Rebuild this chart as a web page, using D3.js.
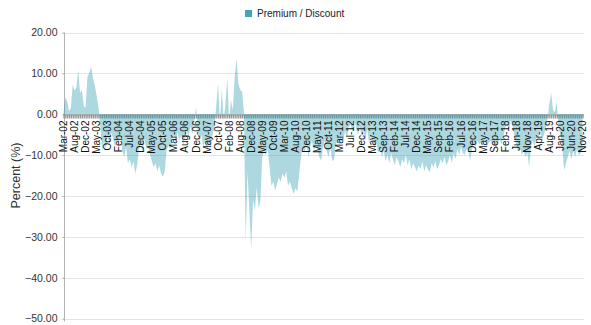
<!DOCTYPE html>
<html>
<head>
<meta charset="utf-8">
<script src="https://cdn.jsdelivr.net/npm/d3@7"></script>
<style>
  html, body { margin: 0; padding: 0; background: #fff; }
  svg { display: block; font-family: "Liberation Sans", Arial, sans-serif; }
</style>
</head>
<body>
<svg id="chart" width="591" height="325"></svg>
<script>
// Category labels shown along the x axis (one every pointsPerLabel samples)
const tickLabels = [
  "Mar-02","Aug-02","Dec-02","May-03","Oct-03","Feb-04","Jul-04","Dec-04",
  "May-05","Oct-05","Mar-06","Aug-06","Dec-06","May-07","Oct-07","Feb-08",
  "Aug-08","Dec-08","May-09","Oct-09","Mar-10","Aug-10","Dec-10","May-11",
  "Oct-11","Mar-12","Jul-12","Dec-12","May-13","Sep-13","Feb-14","Jul-14",
  "Dec-14","May-15","Sep-15","Feb-16","Jul-16","Dec-16","May-17","Sep-17",
  "Feb-18","Jun-18","Nov-18","Apr-19","Aug-19","Jan-20","Jun-20","Nov-20"
];
const pointsPerLabel = 6;

// Premium / discount to NAV (%), sampled between label dates
const premium = [
  0.5, 4.0, 3.2, 0.8, 1.5, 7.2,          // Mar-02
  5.8, 6.5, 10.8, 5.2, 6.0, 2.0,         // Aug-02
  1.5, 9.2, 10.0, 11.6, 9.0, 7.0,        // Dec-02
  4.5, 1.8, -3.0, -9.0, -6.5, -8.5,      // May-03
  -5.5, -7.5, -4.5, -6.0, -8.0, -6.5,    // Oct-03
  -7.0, -5.5, -9.0, -10.5, -8.0, -12.0,  // Feb-04
  -11.0, -13.0, -11.5, -14.5, -12.5, -8.5, // Jul-04
  -7.0, -9.5, -6.0, -8.5, -7.5, -10.0,   // Dec-04
  -11.5, -13.0, -12.0, -14.0, -12.5, -14.5, // May-05
  -15.3, -14.0, -9.0, -7.5, -8.5, -6.0,  // Oct-05
  -5.0, -7.0, -4.5, -6.5, -5.0, -7.5,    // Mar-06
  -6.0, -4.0, -5.5, -3.0, -5.0, -2.5,    // Aug-06
  1.9, -4.0, -6.5, -5.0, -8.0, -6.0,     // Dec-06
  -9.0, -7.0, -8.5, -5.0, -3.0, 2.0,     // May-07
  7.6, -2.0, 6.3, -1.5, 2.5, 8.8,        // Oct-07
  -1.5, 3.5, 1.0, 9.0, 13.6, 7.5,        // Feb-08
  6.0, 5.5, 1.0, -31.0, -14.0, -24.0,    // Aug-08
  -33.0, -21.0, -23.5, -18.0, -23.0, -21.0, // Dec-08
  -10.5, -9.0, -10.0, -8.5, -13.0, -17.5, // May-09
  -16.5, -18.7, -17.0, -15.5, -16.5, -14.5, // Oct-09
  -15.5, -14.0, -17.5, -16.5, -18.0, -19.5, // Mar-10
  -18.0, -19.0, -15.0, -10.5, -8.0, -9.5, // Aug-10
  -7.0, -10.5, -8.0, -6.5, -9.0, -7.5,   // Dec-10
  -8.5, -10.5, -11.3, -8.0, -6.5, -9.0,  // May-11
  -10.5, -8.0, -11.5, -11.0, -7.5, -6.0, // Oct-11
  -8.0, -5.5, -7.0, -4.0, -6.0, -3.0,    // Mar-12
  -2.5, -4.5, -1.5, -3.5, -5.0, -3.0,    // Jul-12
  -5.5, -4.0, -6.5, -3.5, -7.0, -5.5,    // Dec-12
  -6.5, -8.5, -7.0, -9.5, -8.0, -10.5,   // May-13
  -9.0, -11.5, -10.0, -12.0, -9.5, -11.0, // Sep-13
  -12.5, -10.5, -11.5, -13.0, -11.0, -12.0, // Feb-14
  -10.0, -12.5, -11.0, -13.5, -12.0, -13.0, // Jul-14
  -14.0, -12.5, -13.5, -11.5, -14.0, -12.5, // Dec-14
  -13.5, -14.2, -12.0, -13.0, -11.5, -13.5, // May-15
  -12.5, -11.0, -12.0, -10.5, -12.5, -11.5, // Sep-15
  -10.0, -12.0, -9.5, -11.0, -8.5, -10.0, // Feb-16
  -8.0, -9.5, -10.0, -8.5, -9.0, -11.2,  // Jul-16
  -8.5, -7.0, -8.0, -6.5, -7.5, -6.5,    // Dec-16
  -7.5, -6.0, -8.0, -7.0, -6.5, -7.5,    // May-17
  -6.5, -8.0, -7.0, -6.0, -7.5, -5.5,    // Sep-17
  -3.5, -2.0, -4.0, -1.5, -3.0, -5.5,    // Feb-18
  -7.5, -9.0, -8.0, -10.0, -9.0, -10.5,  // Jun-18
  -9.5, -12.8, -8.0, -6.5, -8.0, -5.0,   // Nov-18
  -6.0, -4.0, -6.5, -5.0, -3.5, -1.0,    // Apr-19
  2.5, 5.2, 1.0, 0.5, 3.0, -3.5,         // Aug-19
  -5.0, -8.0, -13.7, -12.0, -10.5, -9.0, // Jan-20
  -11.0, -9.0, -10.5, -8.5, -10.0, -9.5, // Jun-20
  -8.5                                   // Nov-20
];

const yTicks = [20, 10, 0, -10, -20, -30, -40, -50];
const seriesName = "Premium / Discount";
const seriesColor = "#329eb2";

const svg = d3.select("#chart");
const plotLeft = 63.5, plotRight = 584, plotTop = 32.5, plotBottom = 318.5;

const x = d3.scaleLinear().domain([0, premium.length - 1]).range([plotLeft, 582.5]);
const y = d3.scaleLinear().domain([-50, 20]).range([plotBottom, plotTop]);

// horizontal gridlines
svg.append("g")
  .selectAll("line")
  .data(yTicks.filter(v => v !== 0))
  .join("line")
  .attr("x1", plotLeft - 2).attr("x2", plotRight)
  .attr("y1", d => Math.round(y(d)) + 0.5).attr("y2", d => Math.round(y(d)) + 0.5)
  .attr("stroke", "#e4e4e4").attr("stroke-width", 1);

// y axis
const yAxis = d3.axisLeft(y).tickValues(yTicks).tickSize(2).tickPadding(5)
  .tickFormat(d3.format(".2f"));
const gy = svg.append("g").attr("transform", `translate(${Math.round(plotLeft) + 0.5},0)`).call(yAxis);
gy.select(".domain").attr("stroke", "#b3b3b3").attr("d", `M0,${plotTop}V${plotBottom + 3}`);
gy.selectAll(".tick line").attr("stroke", "#b3b3b3");
gy.selectAll(".tick text").attr("fill", "#333").style("font-size", "10.5px")
  .style("font-family", "'Liberation Sans', Arial, sans-serif");

// x axis along zero: one tick per data point
const y0 = Math.round(y(0)) + 0.5;
const xAxis = d3.axisBottom(x).tickValues(d3.range(premium.length)).tickSize(4).tickFormat("");
const gx = svg.append("g").attr("transform", `translate(0,${y0})`).call(xAxis);
gx.select(".domain").attr("stroke", "#8a8a8a").attr("d", `M${plotLeft},0.5H${plotRight}`);
gx.selectAll(".tick line").attr("stroke", "#939393").attr("stroke-width", 1.3);

// premium / discount area
const area = d3.area()
  .x((d, i) => x(i))
  .y0(y(0))
  .y1(d => y(d));
svg.append("path")
  .datum(premium)
  .attr("d", area)
  .attr("fill", seriesColor)
  .attr("fill-opacity", 0.4);

// rotated category labels
svg.append("g")
  .selectAll("text")
  .data(tickLabels)
  .join("text")
  .attr("transform", (d, k) => `translate(${x(k * pointsPerLabel)},${y0 + 6}) rotate(-90)`)
  .attr("text-anchor", "end")
  .attr("dy", "0.35em")
  .attr("fill", "#111")
  .style("font-size", "10px")
  .text(d => d);

// y axis title
svg.append("text")
  .attr("transform", `translate(20,${(plotTop + plotBottom) / 2}) rotate(-90)`)
  .attr("text-anchor", "middle")
  .attr("fill", "#333")
  .style("font-size", "12.5px")
  .text("Percent (%)");

// legend
const lg = svg.append("g").attr("transform", "translate(245,10)");
lg.append("rect").attr("width", 7).attr("height", 7).attr("fill", "#3fa6b8");
lg.append("text").attr("x", 12).attr("y", 7).attr("fill", "#222")
  .style("font-size", "10px").text(seriesName);
</script>
</body>
</html>
